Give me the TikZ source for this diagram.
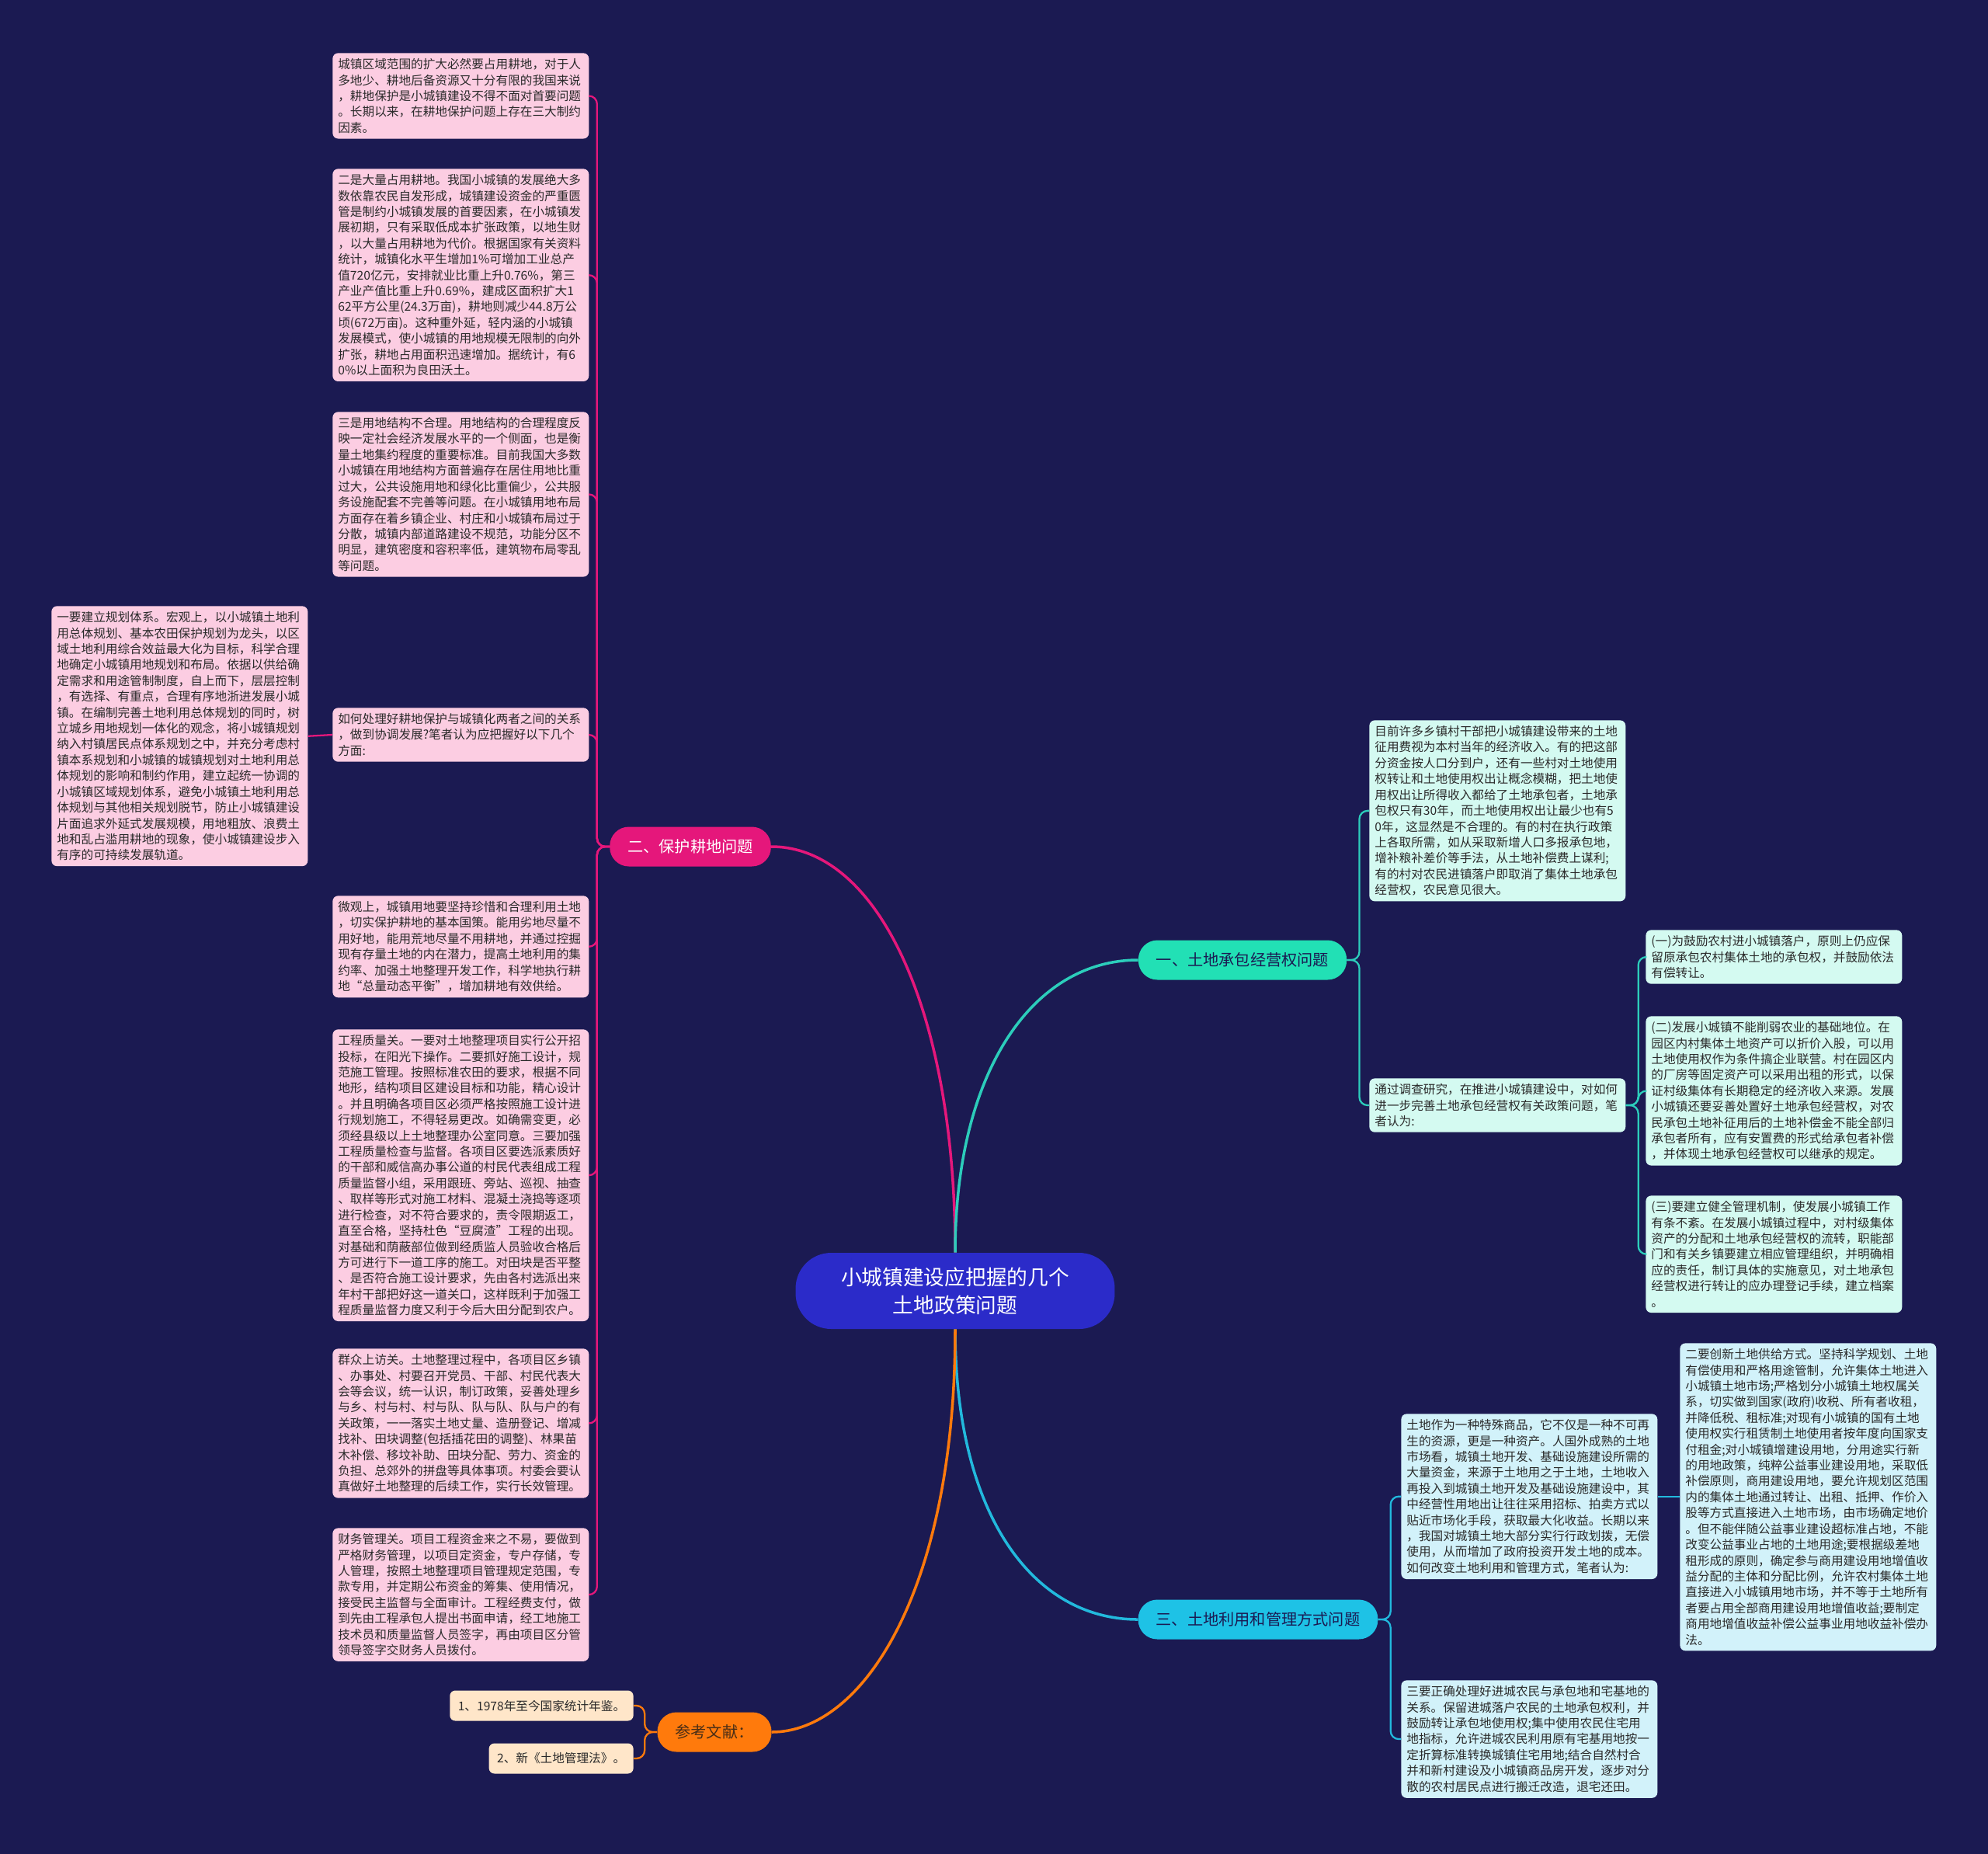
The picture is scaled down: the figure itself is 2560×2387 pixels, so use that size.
\documentclass[tikz,border=0pt]{standalone}
\usepackage{fontspec}
\setmainfont{Noto Sans CJK SC}
\usepackage{xcolor}
\usepackage{tikz}
\usetikzlibrary{positioning}
\definecolor{cartenuit}{HTML}{1B1A52}
\definecolor{cartebleu}{HTML}{2B2BC9}
\definecolor{carterose}{HTML}{E5177B}
\definecolor{carterosepale}{HTML}{FCCDE2}
\definecolor{carteturquoise}{HTML}{22E0B5}
\definecolor{cartelienvert}{HTML}{2CCDBB}
\definecolor{cartementhe}{HTML}{D4FAF1}
\definecolor{carteazur}{HTML}{1EC2E6}
\definecolor{cartelienazur}{HTML}{22B9DD}
\definecolor{carteciel}{HTML}{D2F2FA}
\definecolor{carteorange}{HTML}{FF7A0C}
\definecolor{cartepeche}{HTML}{FFE6C9}
\definecolor{cartebrun}{HTML}{4A2E16}
\definecolor{cartetexte}{HTML}{2A2A2A}

\begin{document}
\begin{tikzpicture}[
    x=0.02cm,y=-0.02cm,
    feuille/.style = {rectangle,rounded corners=4pt,anchor=north west,align=left,
                      text width=6.32cm,inner xsep=0.14cm,inner ysep=0.14cm,
                      text=cartetexte,font=\fontsize{8.9pt}{11.62pt}\selectfont},
    rose/.style    = {feuille,fill=carterosepale},
    menthe/.style  = {feuille,fill=cartementhe},
    ciel/.style    = {feuille,fill=carteciel},
    peche/.style   = {rectangle,rounded corners=4pt,anchor=east,fill=cartepeche,
                      text=cartetexte,inner xsep=0.21cm,inner ysep=0pt,
                      minimum height=0.78cm,font=\fontsize{8.9pt}{11.62pt}\selectfont},
    branche/.style = {rectangle,rounded corners=14pt,minimum height=1.02cm,
                      inner xsep=0.46cm,inner ysep=0pt,
                      font=\fontsize{11.5pt}{14pt}\selectfont},
    centre/.style  = {rectangle,rounded corners=26pt,fill=cartebleu,text=white,
                      align=center,minimum width=8.22cm,minimum height=1.96cm,
                      font=\fontsize{15.2pt}{20.4pt}\selectfont},
    fl/.style      = {line width=1.3pt,rounded corners=6pt},
    tige/.style    = {line width=2pt},
  ]

  \fill[cartenuit] (0,0) rectangle (2560,2387);

  \node[centre] (ctr) at (1230,1662) {小城镇建设应把握的几个\\土地政策问题};

  \node[branche,fill=carterose,text=white]       (pb) at (889,1090)  {二、保护耕地问题};
  \node[branche,fill=carteturquoise,text=cartenuit] (p1) at (1600,1236) {一、土地承包经营权问题};
  \node[branche,fill=carteazur,text=cartenuit]   (p3) at (1620,2085) {三、土地利用和管理方式问题};
  \node[branche,fill=carteorange,text=cartebrun] (pr) at (920,2230)  {参考文献：};

  \node[rose] (b1) at (428,68) {城镇区域范围的扩大必然要占用耕地，对于人\\
    多地少、耕地后备资源又十分有限的我国来说\\
    ，耕地保护是小城镇建设不得不面对首要问题\\
    。长期以来，在耕地保护问题上存在三大制约\\
    因素。};
  \node[rose] (b2) at (428,217) {二是大量占用耕地。我国小城镇的发展绝大多\\
    数依靠农民自发形成，城镇建设资金的严重匮\\
    管是制约小城镇发展的首要因素，在小城镇发\\
    展初期，只有采取低成本扩张政策，以地生财\\
    ，以大量占用耕地为代价。根据国家有关资料\\
    统计，城镇化水平生增加1\%可增加工业总产\\
    值720亿元，安排就业比重上升0.76\%，第三\\
    产业产值比重上升0.69\%，建成区面积扩大1\\
    62平方公里(24.3万亩)，耕地则减少44.8万公\\
    顷(672万亩)。这种重外延，轻内涵的小城镇\\
    发展模式，使小城镇的用地规模无限制的向外\\
    扩张，耕地占用面积迅速增加。据统计，有6\\
    0\%以上面积为良田沃土。};
  \node[rose] (b3) at (428,530) {三是用地结构不合理。用地结构的合理程度反\\
    映一定社会经济发展水平的一个侧面，也是衡\\
    量土地集约程度的重要标准。目前我国大多数\\
    小城镇在用地结构方面普遍存在居住用地比重\\
    过大，公共设施用地和绿化比重偏少，公共服\\
    务设施配套不完善等问题。在小城镇用地布局\\
    方面存在着乡镇企业、村庄和小城镇布局过于\\
    分散，城镇内部道路建设不规范，功能分区不\\
    明显，建筑密度和容积率低，建筑物布局零乱\\
    等问题。};
  \node[rose] (b4) at (428,911) {如何处理好耕地保护与城镇化两者之间的关系\\
    ，做到协调发展?笔者认为应把握好以下几个\\
    方面:};
  \node[rose] (l1) at (66,780) {一要建立规划体系。宏观上，以小城镇土地利\\
    用总体规划、基本农田保护规划为龙头，以区\\
    域土地利用综合效益最大化为目标，科学合理\\
    地确定小城镇用地规划和布局。依据以供给确\\
    定需求和用途管制制度，自上而下，层层控制\\
    ，有选择、有重点，合理有序地浙进发展小城\\
    镇。在编制完善土地利用总体规划的同时，树\\
    立城乡用地规划一体化的观念，将小城镇规划\\
    纳入村镇居民点体系规划之中，并充分考虑村\\
    镇本系规划和小城镇的城镇规划对土地利用总\\
    体规划的影响和制约作用，建立起统一协调的\\
    小城镇区域规划体系，避免小城镇土地利用总\\
    体规划与其他相关规划脱节，防止小城镇建设\\
    片面追求外延式发展规模，用地粗放、浪费土\\
    地和乱占滥用耕地的现象，使小城镇建设步入\\
    有序的可持续发展轨道。};
  \node[rose] (b5) at (428,1153) {微观上，城镇用地要坚持珍惜和合理利用土地\\
    ，切实保护耕地的基本国策。能用劣地尽量不\\
    用好地，能用荒地尽量不用耕地，并通过控掘\\
    现有存量土地的内在潜力，提高土地利用的集\\
    约率、加强土地整理开发工作，科学地执行耕\\
    地“总量动态平衡”，增加耕地有效供给。};
  \node[rose] (b6) at (428,1325) {工程质量关。一要对土地整理项目实行公开招\\
    投标，在阳光下操作。二要抓好施工设计，规\\
    范施工管理。按照标准农田的要求，根据不同\\
    地形，结构项目区建设目标和功能，精心设计\\
    。并且明确各项目区必须严格按照施工设计进\\
    行规划施工，不得轻易更改。如确需变更，必\\
    须经县级以上土地整理办公室同意。三要加强\\
    工程质量检查与监督。各项目区要选派素质好\\
    的干部和威信高办事公道的村民代表组成工程\\
    质量监督小组，采用跟班、旁站、巡视、抽查\\
    、取样等形式对施工材料、混凝土浇捣等逐项\\
    进行检查，对不符合要求的，责令限期返工，\\
    直至合格，坚持杜色“豆腐渣”工程的出现。\\
    对基础和荫蔽部位做到经质监人员验收合格后\\
    方可进行下一道工序的施工。对田块是否平整\\
    、是否符合施工设计要求，先由各村选派出来\\
    年村干部把好这一道关口，这样既利于加强工\\
    程质量监督力度又利于今后大田分配到农户。};
  \node[rose] (b7) at (428,1736) {群众上访关。土地整理过程中，各项目区乡镇\\
    、办事处、村要召开党员、干部、村民代表大\\
    会等会议，统一认识，制订政策，妥善处理乡\\
    与乡、村与村、村与队、队与队、队与户的有\\
    关政策，一一落实土地丈量、造册登记、增减\\
    找补、田块调整(包括插花田的调整)、林果苗\\
    木补偿、移坟补助、田块分配、劳力、资金的\\
    负担、总郊外的拼盘等具体事项。村委会要认\\
    真做好土地整理的后续工作，实行长效管理。};
  \node[rose] (b8) at (428,1967) {财务管理关。项目工程资金来之不易，要做到\\
    严格财务管理，以项目定资金，专户存储，专\\
    人管理，按照土地整理项目管理规定范围，专\\
    款专用，并定期公布资金的筹集、使用情况，\\
    接受民主监督与全面审计。工程经费支付，做\\
    到先由工程承包人提出书面申请，经工地施工\\
    技术员和质量监督人员签字，再由项目区分管\\
    领导签字交财务人员拨付。};

  \node[peche] (r1) at (816,2196) {1、1978年至今国家统计年鉴。};
  \node[peche] (r2) at (816,2264) {2、新《土地管理法》。};

  \node[menthe] (t1) at (1763,927) {目前许多乡镇村干部把小城镇建设带来的土地\\
    征用费视为本村当年的经济收入。有的把这部\\
    分资金按人口分到户，还有一些村对土地使用\\
    权转让和土地使用权出让概念模糊，把土地使\\
    用权出让所得收入都给了土地承包者，土地承\\
    包权只有30年，而土地使用权出让最少也有5\\
    0年，这显然是不合理的。有的村在执行政策\\
    上各取所需，如从采取新增人口多报承包地，\\
    增补粮补差价等手法，从土地补偿费上谋利;\\
    有的村对农民进镇落户即取消了集体土地承包\\
    经营权，农民意见很大。};
  \node[menthe] (t2) at (1763,1388) {通过调查研究，在推进小城镇建设中，对如何\\
    进一步完善土地承包经营权有关政策问题，笔\\
    者认为:};
  \node[menthe] (t3) at (2119,1197) {(一)为鼓励农村进小城镇落户，原则上仍应保\\
    留原承包农村集体土地的承包权，并鼓励依法\\
    有偿转让。};
  \node[menthe] (t4) at (2119,1308) {(二)发展小城镇不能削弱农业的基础地位。在\\
    园区内村集体土地资产可以折价入股，可以用\\
    土地使用权作为条件搞企业联营。村在园区内\\
    的厂房等固定资产可以采用出租的形式，以保\\
    证村级集体有长期稳定的经济收入来源。发展\\
    小城镇还要妥善处置好土地承包经营权，对农\\
    民承包土地补征用后的土地补偿金不能全部归\\
    承包者所有，应有安置费的形式给承包者补偿\\
    ，并体现土地承包经营权可以继承的规定。};
  \node[menthe] (t5) at (2119,1539) {(三)要建立健全管理机制，使发展小城镇工作\\
    有条不紊。在发展小城镇过程中，对村级集体\\
    资产的分配和土地承包经营权的流转，职能部\\
    门和有关乡镇要建立相应管理组织，并明确相\\
    应的责任，制订具体的实施意见，对土地承包\\
    经营权进行转让的应办理登记手续，建立档案\\
    。};

  \node[ciel] (c1) at (1804,1820) {土地作为一种特殊商品，它不仅是一种不可再\\
    生的资源，更是一种资产。人国外成熟的土地\\
    市场看，城镇土地开发、基础设施建设所需的\\
    大量资金，来源于土地用之于土地，土地收入\\
    再投入到城镇土地开发及基础设施建设中，其\\
    中经营性用地出让往往采用招标、拍卖方式以\\
    贴近市场化手段，获取最大化收益。长期以来\\
    ，我国对城镇土地大部分实行行政划拨，无偿\\
    使用，从而增加了政府投资开发土地的成本。\\
    如何改变土地利用和管理方式，笔者认为:};
  \node[ciel] (c2) at (2163,1729) {二要创新土地供给方式。坚持科学规划、土地\\
    有偿使用和严格用途管制，允许集体土地进入\\
    小城镇土地市场;严格划分小城镇土地权属关\\
    系，切实做到国家(政府)收税、所有者收租，\\
    并降低税、租标准;对现有小城镇的国有土地\\
    使用权实行租赁制土地使用者按年度向国家支\\
    付租金;对小城镇增建设用地，分用途实行新\\
    的用地政策，纯粹公益事业建设用地，采取低\\
    补偿原则，商用建设用地，要允许规划区范围\\
    内的集体土地通过转让、出租、抵押、作价入\\
    股等方式直接进入土地市场，由市场确定地价\\
    。但不能伴随公益事业建设超标准占地，不能\\
    改变公益事业占地的土地用途;要根据级差地\\
    租形成的原则，确定参与商用建设用地增值收\\
    益分配的主体和分配比例，允许农村集体土地\\
    直接进入小城镇用地市场，并不等于土地所有\\
    者要占用全部商用建设用地增值收益;要制定\\
    商用地增值收益补偿公益事业用地收益补偿办\\
    法。};
  \node[ciel] (c3) at (1804,2163) {三要正确处理好进城农民与承包地和宅基地的\\
    关系。保留进城落户农民的土地承包权利，并\\
    鼓励转让承包地使用权;集中使用农民住宅用\\
    地指标，允许进城农民利用原有宅基用地按一\\
    定折算标准转换城镇住宅用地;结合自然村合\\
    并和新村建设及小城镇商品房开发，逐步对分\\
    散的农村居民点进行搬迁改造，退宅还田。};

  \draw[tige,carterose] (ctr.north) .. controls (1230,1300) and (1130,1090) .. (pb.east);
  \draw[tige,cartelienvert] (ctr.north) .. controls (1230,1380) and (1330,1236) .. (p1.west);
  \draw[tige,cartelienazur] (ctr.south) .. controls (1230,1950) and (1330,2085) .. (p3.west);
  \draw[tige,carteorange] (ctr.south) .. controls (1230,2050) and (1110,2230) .. (pr.east);

  \foreach \c in {b1,b2,b3,b4,b5,b6,b7,b8}
    \draw[fl,carterose] (pb.west) -- ++(-16,0) |- (\c.east);
  \draw[fl,carterose] (b4.west) -- (l1.east);

  \foreach \c in {t1,t2}
    \draw[fl,cartelienvert] (p1.east) -- ++(16,0) |- (\c.west);
  \foreach \c in {t3,t4,t5}
    \draw[fl,cartelienvert] (t2.east) -- ++(16,0) |- (\c.west);

  \foreach \c in {c1,c3}
    \draw[fl,cartelienazur] (p3.east) -- ++(16,0) |- (\c.west);
  \draw[fl,cartelienazur] (c1.east) -- (c1.east -| c2.west);

  \foreach \c in {r1,r2}
    \draw[fl,carteorange] (pr.west) -- ++(-16,0) |- (\c.east);

\end{tikzpicture}
\end{document}
